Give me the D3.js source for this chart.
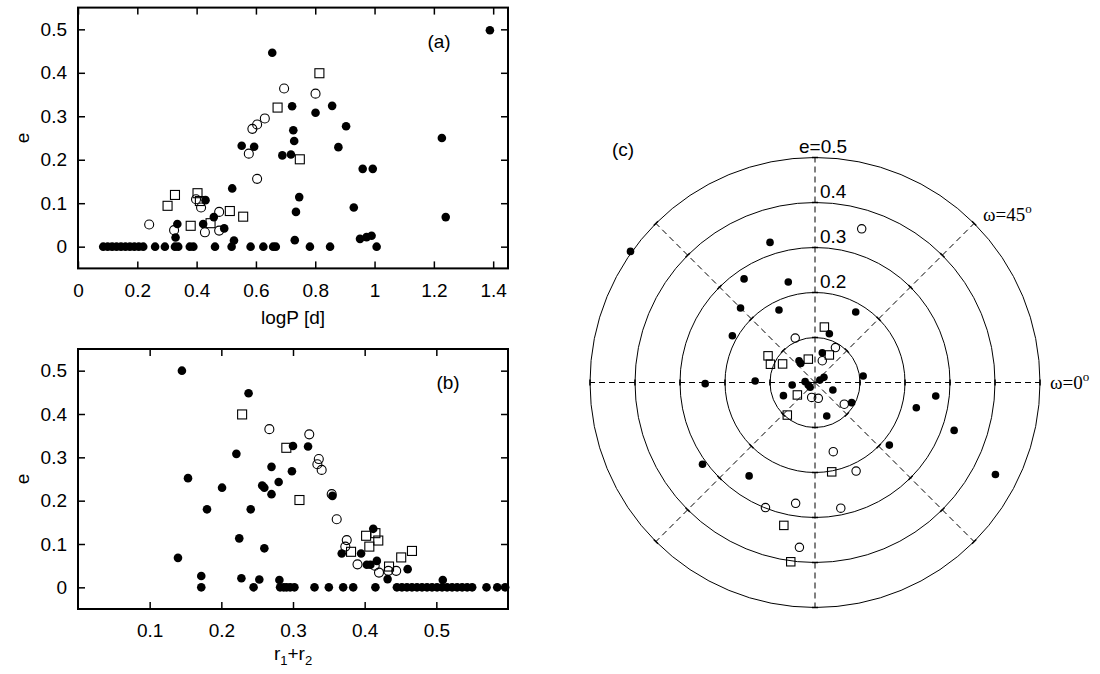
<!DOCTYPE html>
<html>
<head>
<meta charset="utf-8">
<script src="https://cdn.jsdelivr.net/npm/d3@7"></script>
<style>
    body { margin: 0; background: #fff; }
    svg { font-family: "Liberation Sans", Arial, sans-serif; }
</style>
</head>
<body>
<svg id="fig" width="1100" height="674"></svg>
<script>
// ---- panel (a): [logP, e] ----
const aFilled = [
    [0.085, 0], [0.10, 0], [0.115, 0], [0.13, 0], [0.145, 0], [0.16, 0], [0.175, 0], [0.19, 0],
    [0.205, 0], [0.22, 0], [0.26, 0], [0.293, 0], [0.327, 0], [0.338, 0], [0.377, 0], [0.389, 0],
    [0.462, 0], [0.518, 0], [0.582, 0], [0.625, 0], [0.658, 0], [0.667, 0], [0.782, 0], [0.85, 0],
    [1.007, 0],
    [0.655, 0.446], [0.722, 0.323], [0.726, 0.268], [0.729, 0.243], [0.689, 0.210], [0.718, 0.212],
    [0.552, 0.232], [0.594, 0.230], [0.52, 0.134], [0.746, 0.114], [0.735, 0.080], [0.731, 0.015],
    [0.335, 0.052], [0.329, 0.021], [0.43, 0.107], [0.422, 0.052], [0.458, 0.068], [0.493, 0.042],
    [0.526, 0.014], [0.801, 0.308], [0.857, 0.324], [0.904, 0.277], [0.878, 0.229], [0.96, 0.179],
    [0.994, 0.179], [0.93, 0.090], [0.951, 0.018], [0.973, 0.022], [0.99, 0.025], [1.227, 0.25],
    [1.24, 0.068], [1.389, 0.498]
];
const aOpen = [
    [0.24, 0.051], [0.324, 0.038], [0.398, 0.109], [0.415, 0.090], [0.428, 0.033], [0.476, 0.080],
    [0.476, 0.037], [0.576, 0.214], [0.588, 0.271], [0.604, 0.281], [0.63, 0.295], [0.604, 0.156],
    [0.695, 0.364], [0.801, 0.352]
];
const aSquare = [
    [0.302, 0.094], [0.327, 0.119], [0.38, 0.048], [0.403, 0.123], [0.411, 0.105], [0.447, 0.054],
    [0.512, 0.082], [0.557, 0.069], [0.673, 0.320], [0.814, 0.399], [0.748, 0.201]
];
const aXTicks = [0, 0.2, 0.4, 0.6, 0.8, 1, 1.2, 1.4];

// ---- panel (b): [r1+r2, e] ----
const bFilled = [
    [0.145, 0.50], [0.1535, 0.252], [0.1395, 0.068], [0.172, 0.026], [0.180, 0.180], [0.201, 0.230],
    [0.221, 0.308], [0.225, 0.113], [0.228, 0.021], [0.238, 0.448], [0.241, 0.180], [0.253, 0.018],
    [0.257, 0.235], [0.26, 0.230], [0.26, 0.090], [0.270, 0.278], [0.27, 0.215], [0.28, 0.243],
    [0.281, 0.017], [0.2985, 0.268], [0.30, 0.326], [0.321, 0.325], [0.355, 0.211], [0.368, 0.078],
    [0.395, 0.078], [0.403, 0.052], [0.408, 0.052], [0.412, 0.135], [0.417, 0.061], [0.432, 0.019],
    [0.46, 0.042], [0.509, 0.017],
    [0.172, 0], [0.245, 0], [0.282, 0], [0.287, 0], [0.291, 0], [0.296, 0], [0.302, 0], [0.33, 0],
    [0.35, 0], [0.37, 0], [0.384, 0], [0.415, 0], [0.445, 0], [0.452, 0], [0.459, 0], [0.466, 0],
    [0.473, 0], [0.48, 0], [0.487, 0], [0.494, 0], [0.501, 0], [0.508, 0], [0.515, 0], [0.522, 0],
    [0.529, 0], [0.536, 0], [0.543, 0], [0.550, 0], [0.570, 0], [0.585, 0], [0.596, 0]
];
const bOpen = [
    [0.267, 0.365], [0.3227, 0.353], [0.336, 0.296], [0.334, 0.284], [0.340, 0.271], [0.354, 0.215],
    [0.361, 0.157], [0.375, 0.109], [0.373, 0.094], [0.390, 0.053], [0.414, 0.050], [0.42, 0.034],
    [0.433, 0.038], [0.444, 0.038]
];
const bSquare = [
    [0.229, 0.399], [0.2907, 0.322], [0.309, 0.2015], [0.381, 0.082], [0.402, 0.119], [0.415, 0.125],
    [0.419, 0.108], [0.4065, 0.094], [0.434, 0.048], [0.451, 0.069], [0.466, 0.084]
];
const bXTicks = [0.1, 0.2, 0.3, 0.4, 0.5];
const eTicks = [0, 0.1, 0.2, 0.3, 0.4, 0.5];

// ---- panel (c): [e, omega in degrees] ----
const cFilled = [
    [0.503, 144.6], [0.327, 107.8], [0.279, 124.4], [0.231, 104.9], [0.234, 135], [0.180, 116.4],
    [0.181, 60], [0.211, 150.5], [0.113, 73.6], [0.068, 76.2], [0.060, 126.3], [0.053, 126.7],
    [0.108, 7.7], [0.244, 180.6], [0.133, 178.6], [0.051, 186.3], [0.022, 175], [0.016, 200],
    [0.015, 224], [0.012, 26.6], [0.023, 30], [0.076, 202.6], [0.043, 337.4], [0.093, 331.2],
    [0.079, 289.3], [0.216, 319.9], [0.232, 346], [0.270, 353.6], [0.309, 216], [0.254, 234.8],
    [0.327, 341], [0.450, 333]
];
const cOpen = [
    [0.357, 73.1], [0.108, 114], [0.090, 59.7], [0.051, 71.5], [0.034, 257.4], [0.036, 281.8],
    [0.081, 323.4], [0.159, 284.8], [0.217, 294.9], [0.299, 248.4], [0.272, 260.9], [0.285, 281.6],
    [0.368, 264.6]
];
const cSquare = [
    [0.125, 80.4], [0.120, 150.4], [0.107, 157.7], [0.083, 150.2], [0.054, 106], [0.069, 62.5],
    [0.048, 215.2], [0.095, 229.6], [0.202, 280.6], [0.325, 257.7], [0.402, 262.3]
];
const rings = [0.1, 0.2, 0.3, 0.4, 0.5];
const spokes = [0, 45, 90, 135, 180, 225, 270, 315];

const svg = d3.select('#fig');
const FONT = 19;

/**
 * Draw one set of markers
 */
function drawMarkers(g, data, px, py, kind, size) {
    const sel = g.append('g').selectAll(null).data(data).enter();
    if (kind === 'square') {
        sel.append('rect')
            .attr('x', d => px(d) - size / 2)
            .attr('y', d => py(d) - size / 2)
            .attr('width', size)
            .attr('height', size)
            .attr('fill', 'none')
            .attr('stroke', '#000')
            .attr('stroke-width', 1.1);
    } else if (kind === 'open') {
        sel.append('circle')
            .attr('cx', px).attr('cy', py).attr('r', size / 2)
            .attr('fill', 'none')
            .attr('stroke', '#000')
            .attr('stroke-width', 1.1);
    } else {
        sel.append('circle')
            .attr('cx', px).attr('cy', py).attr('r', size / 2)
            .attr('fill', '#000');
    }
}

/**
 * Draw a boxed scatter panel, gnuplot style (ticks inside and mirrored)
 */
function drawPanel(opt) {
    const x = d3.scaleLinear().domain(opt.xDomain).range([opt.left, opt.right]);
    const y = d3.scaleLinear().domain([-0.05, 0.55]).range([opt.bottom, opt.top]);
    const fmt = d => String(+d.toFixed(1));
    const g = svg.append('g');

    const style = a => {
        a.select('.domain').remove();
        a.attr('font-size', FONT).attr('font-family', '"Liberation Sans", Arial, sans-serif');
        a.selectAll('.tick line').attr('stroke-width', 1.5);
        a.selectAll('.tick text').attr('fill', '#000');
    };

    g.append('g').attr('transform', `translate(0,${opt.bottom})`)
        .call(d3.axisBottom(x).tickValues(opt.xTicks).tickFormat(fmt).tickSize(-7).tickPadding(15))
        .call(style);
    g.append('g').attr('transform', `translate(0,${opt.top})`)
        .call(d3.axisTop(x).tickValues(opt.xTicks).tickFormat('').tickSize(-7))
        .call(style);
    g.append('g').attr('transform', `translate(${opt.left},0)`)
        .call(d3.axisLeft(y).tickValues(eTicks).tickFormat(fmt).tickSize(-7).tickPadding(11))
        .call(style);
    g.append('g').attr('transform', `translate(${opt.right},0)`)
        .call(d3.axisRight(y).tickValues(eTicks).tickFormat('').tickSize(-7))
        .call(style);

    g.append('rect')
        .attr('x', opt.left).attr('y', opt.top)
        .attr('width', opt.right - opt.left).attr('height', opt.bottom - opt.top)
        .attr('fill', 'none').attr('stroke', '#000').attr('stroke-width', 2);

    const px = d => x(d[0]), py = d => y(d[1]);
    drawMarkers(g, opt.filled, px, py, 'filled', 8.6);
    drawMarkers(g, opt.open, px, py, 'open', 9);
    drawMarkers(g, opt.square, px, py, 'square', 9);

    // y label
    g.append('text')
        .attr('transform', `translate(29,${(opt.top + opt.bottom) / 2}) rotate(-90)`)
        .attr('text-anchor', 'middle')
        .attr('font-size', FONT)
        .text('e');

    g.append('text')
        .attr('x', opt.tagX).attr('y', opt.top + 40)
        .attr('text-anchor', 'middle')
        .attr('font-size', FONT)
        .text(opt.tag);

    return g;
}

const ga = drawPanel({
    left: 78, right: 508, top: 7.6, bottom: 268.4, xDomain: [0, 1.45], xTicks: aXTicks,
    filled: aFilled, open: aOpen, square: aSquare, tag: '(a)', tagX: 439
});
ga.append('text')
    .attr('x', 293).attr('y', 324)
    .attr('text-anchor', 'middle').attr('font-size', FONT)
    .text('logP [d]');

const gb = drawPanel({
    left: 78, right: 508, top: 349, bottom: 609, xDomain: [0, 0.6], xTicks: bXTicks,
    filled: bFilled, open: bOpen, square: bSquare, tag: '(b)', tagX: 448
});
const rl = gb.append('text')
    .attr('x', 293).attr('y', 660)
    .attr('text-anchor', 'middle').attr('font-size', FONT);
rl.append('tspan').text('r');
rl.append('tspan').attr('font-size', 13).attr('dy', 5).text('1');
rl.append('tspan').attr('dy', -5).text('+r');
rl.append('tspan').attr('font-size', 13).attr('dy', 5).text('2');

// ---- polar panel (c) ----
const cx = 815, cy = 382.5;
const r = d3.scaleLinear().domain([0, 0.5]).range([0, 225]);
const gc = svg.append('g');
const rad = a => a * Math.PI / 180;

gc.selectAll('.spoke').data(spokes).enter().append('line')
    .attr('x1', cx).attr('y1', cy)
    .attr('x2', a => cx + r(0.5) * Math.cos(rad(a)))
    .attr('y2', a => cy - r(0.5) * Math.sin(rad(a)))
    .attr('stroke', '#000').attr('stroke-width', 1)
    .attr('stroke-dasharray', '6,4');

gc.selectAll('.ring').data(rings).enter().append('circle')
    .attr('cx', cx).attr('cy', cy).attr('r', d => r(d))
    .attr('fill', 'none').attr('stroke', '#000').attr('stroke-width', 1);

// small tics where spokes cross the rings
const tics = [];
spokes.forEach(a => rings.forEach(e => tics.push([e, a])));
gc.selectAll('.tic').data(tics).enter().append('line')
    .attr('x1', d => cx + r(d[0]) * Math.cos(rad(d[1])) - 3 * Math.sin(rad(d[1])))
    .attr('y1', d => cy - r(d[0]) * Math.sin(rad(d[1])) - 3 * Math.cos(rad(d[1])))
    .attr('x2', d => cx + r(d[0]) * Math.cos(rad(d[1])) + 3 * Math.sin(rad(d[1])))
    .attr('y2', d => cy - r(d[0]) * Math.sin(rad(d[1])) + 3 * Math.cos(rad(d[1])))
    .attr('stroke', '#000').attr('stroke-width', 1.5);

const ppx = d => cx + r(d[0]) * Math.cos(rad(d[1]));
const ppy = d => cy - r(d[0]) * Math.sin(rad(d[1]));
drawMarkers(gc, cFilled, ppx, ppy, 'filled', 7.6);
drawMarkers(gc, cOpen, ppx, ppy, 'open', 8.4);
drawMarkers(gc, cSquare, ppx, ppy, 'square', 8.4);

// ring labels
gc.selectAll('.rlab').data(rings.slice(1)).enter().append('text')
    .attr('x', d => d === 0.5 ? 799 : 820)
    .attr('y', d => cy - r(d) - 4.5)
    .attr('font-size', FONT)
    .text(d => (d === 0.5 ? 'e=' : '') + d.toFixed(1));

gc.append('text').attr('x', 623).attr('y', 156)
    .attr('text-anchor', 'middle').attr('font-size', FONT).text('(c)');

function omegaLabel(x, y, val) {
    const t = gc.append('text').attr('x', x).attr('y', y)
        .attr('font-size', FONT)
        .attr('font-family', '"Liberation Serif", "Times New Roman", serif');
    t.append('tspan').text('\u03c9=' + val);
    t.append('tspan').attr('font-size', 13).attr('dy', -8).text('o');
}
omegaLabel(983, 221, 45);
omegaLabel(1050, 389, 0);
</script>
</body>
</html>
